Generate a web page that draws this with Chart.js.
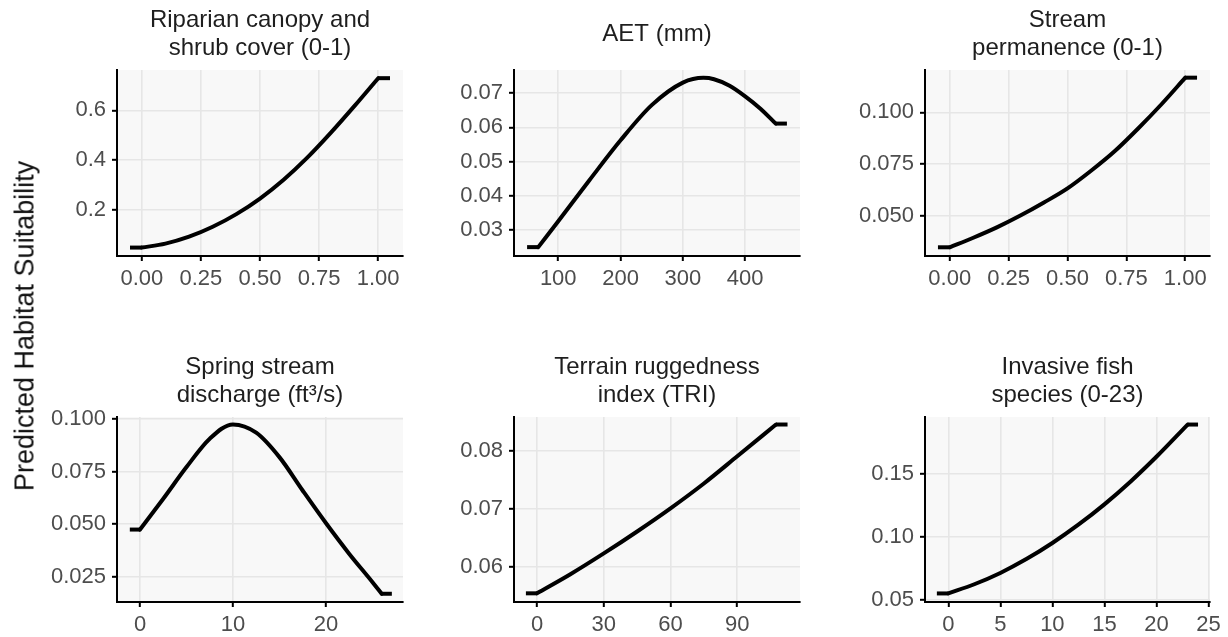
<!DOCTYPE html>
<html>
<head>
<meta charset="utf-8">
<script src="https://cdn.jsdelivr.net/npm/chart.js@4.4.1/dist/chart.umd.min.js"></script>
<style>
  html, body { margin: 0; padding: 0; background: #fff; overflow: hidden; }
  #wrap { position: relative; width: 1228px; height: 637px; }
  canvas { position: absolute; }
  #ylab {
    position: absolute; left: 25px; top: 326px;
    transform: translate(-50%, -50%) rotate(-90deg);
    white-space: nowrap; font: 27px 'Liberation Sans', Arial, sans-serif; color: #111;
  }
</style>
</head>
<body>
<div id="wrap">
  <canvas id="c1"></canvas>
  <canvas id="c2"></canvas>
  <canvas id="c3"></canvas>
  <canvas id="c4"></canvas>
  <canvas id="c5"></canvas>
  <canvas id="c6"></canvas>
  <div id="ylab">Predicted Habitat Suitability</div>
</div>
<script>
// Riparian canopy and shrub cover
const riparianX = [-0.05, 0, 0.1, 0.2, 0.3, 0.4, 0.5, 0.6, 0.7, 0.8, 0.9, 1.0, 1.05];
const riparianY = [0.046, 0.046, 0.062, 0.09, 0.13, 0.181, 0.244, 0.32, 0.409, 0.51, 0.618, 0.73, 0.73];
const riparianXTicks = ['0.00', '0.25', '0.50', '0.75', '1.00'];
const riparianYTicks = ['0.2', '0.4', '0.6'];

// AET
const aetX = [50, 68, 100, 150, 200, 250, 300, 333, 350, 375, 400, 425, 449, 467];
const aetY = [0.0249, 0.0249, 0.0325, 0.0445, 0.0562, 0.0665, 0.0731, 0.0745, 0.0741, 0.0722, 0.0691, 0.0654, 0.0611, 0.0611];
const aetXTicks = ['100', '200', '300', '400'];
const aetYTicks = ['0.03', '0.04', '0.05', '0.06', '0.07'];

// Stream permanence
const permX = [-0.05, 0, 0.1, 0.2, 0.3, 0.4, 0.5, 0.6, 0.7, 0.8, 0.9, 1.0, 1.05];
const permY = [0.0349, 0.0349, 0.0395, 0.0445, 0.0502, 0.0565, 0.0633, 0.0718, 0.0812, 0.0922, 0.104, 0.1167, 0.1167];
const permXTicks = ['0.00', '0.25', '0.50', '0.75', '1.00'];
const permYTicks = ['0.050', '0.075', '0.100'];

// Spring stream discharge
const dischargeX = [-1.1, 0, 2.5, 5, 7.5, 10, 12.5, 15, 17.5, 20, 22.5, 25, 26, 27.1];
const dischargeY = [0.0475, 0.0475, 0.0621, 0.0771, 0.0905, 0.0973, 0.0934, 0.0818, 0.066, 0.0506, 0.0361, 0.0227, 0.0171, 0.0171];
const dischargeXTicks = ['0', '10', '20'];
const dischargeYTicks = ['0.025', '0.050', '0.075', '0.100'];

// Terrain ruggedness index
const triX = [-5, 0, 15, 30, 45, 60, 75, 90, 107.4, 112.6];
const triY = [0.0554, 0.0554, 0.0587, 0.0623, 0.0661, 0.0701, 0.0744, 0.0791, 0.0846, 0.0846];
const triXTicks = ['0', '30', '60', '90'];
const triYTicks = ['0.06', '0.07', '0.08'];

// Invasive fish species
const fishX = [-1.1, 0, 2.5, 5, 7.5, 10, 12.5, 15, 17.5, 20, 23, 24];
const fishY = [0.0548, 0.0548, 0.0621, 0.0711, 0.0821, 0.0949, 0.1094, 0.1256, 0.1436, 0.1634, 0.189, 0.189];
const fishXTicks = ['0', '5', '10', '15', '20', '25'];
const fishYTicks = ['0.05', '0.10', '0.15'];

Chart.defaults.font.family = "'Liberation Sans', Arial, sans-serif";

const panelBg = {
  id: 'panelBg',
  beforeDraw(chart) {
    const a = chart.chartArea;
    const ctx = chart.ctx;
    ctx.save();
    ctx.fillStyle = '#f8f8f8';
    ctx.fillRect(a.left, a.top, a.right - a.left, a.bottom - a.top);
    ctx.restore();
  },
};

const panelTitle = {
  id: 'panelTitle',
  afterDraw(chart, args, opts) {
    const a = chart.chartArea;
    const ctx = chart.ctx;
    const lines = opts.lines || [];
    const cx = (a.left + a.right) / 2;
    const mid = a.top - 36;
    ctx.save();
    ctx.font = "24px 'Liberation Sans', Arial, sans-serif";
    ctx.fillStyle = '#1e1e1e';
    ctx.textAlign = 'center';
    ctx.textBaseline = 'middle';
    lines.forEach((t, i) => {
      const y = mid + (i - (lines.length - 1) / 2) * 28;
      ctx.fillText(t, cx, y);
    });
    ctx.restore();
  },
};

const axisOpts = (lim, labels, isX) => ({
  type: 'linear',
  min: lim[0],
  max: lim[1],
  afterBuildTicks: (scale) => {
    scale.ticks = labels.map((l) => ({value: Number(l)}));
  },
  afterFit: (scale) => {
    if (isX) scale.height = 40; else scale.width = 80;
  },
  ticks: {
    autoSkip: false,
    maxRotation: 0,
    padding: isX ? 5 : 6,
    color: '#4d4d4d',
    font: {size: 22},
    callback: (v, i) => labels[i],
  },
  grid: {
    color: '#e6e6e6',
    lineWidth: 1.6,
    tickColor: '#000',
    tickLength: 5,
    tickWidth: 2,
  },
  border: {display: true, color: '#000', width: 2},
});

const makePanel = (id, box, title, xs, ys, xLim, yLim, xTicks, yTicks) => {
  const canvas = document.getElementById(id);
  const padTop = box.top - box.canvasTop;
  canvas.width = 80 + box.w + 18;
  canvas.height = padTop + box.h + 40;
  canvas.style.left = (box.left - 80) + 'px';
  canvas.style.top = box.canvasTop + 'px';

  const pts = xs.map((x, i) => ({x, y: ys[i]}));
  const n = pts.length;
  const line = {
    borderColor: '#000',
    borderWidth: 4,
    pointRadius: 0,
    fill: false,
  };

  return new Chart(canvas.getContext('2d'), {
    type: 'line',
    data: {
      datasets: [
        {...line, data: pts.slice(0, 2), borderCapStyle: 'butt'},
        {...line, data: pts.slice(1, n - 1), cubicInterpolationMode: 'monotone', borderCapStyle: 'round'},
        {...line, data: pts.slice(n - 2), borderCapStyle: 'butt'},
      ],
    },
    options: {
      responsive: false,
      animation: false,
      devicePixelRatio: 1,
      layout: {padding: {top: padTop, right: 18, left: 0, bottom: 0}},
      plugins: {
        legend: {display: false},
        tooltip: {enabled: false},
        panelTitle: {lines: title},
      },
      scales: {
        x: {...axisOpts(xLim, xTicks, true), position: 'bottom'},
        y: {...axisOpts(yLim, yTicks, false), position: 'left'},
      },
    },
    plugins: [panelBg, panelTitle],
  });
};

const row1 = {canvasTop: 0, top: 70, h: 186};
const row2 = {canvasTop: 300, top: 417, h: 185};

makePanel('c1', {...row1, left: 117, w: 286}, ['Riparian canopy and', 'shrub cover (0-1)'],
    riparianX, riparianY, [-0.105, 1.105], [0.012, 0.763], riparianXTicks, riparianYTicks);
makePanel('c2', {...row1, left: 514, w: 286}, ['AET (mm)'],
    aetX, aetY, [29, 488], [0.0223, 0.0768], aetXTicks, aetYTicks);
makePanel('c3', {...row1, left: 925, w: 285}, ['Stream', 'permanence (0-1)'],
    permX, permY, [-0.105, 1.105], [0.0307, 0.1204], permXTicks, permYTicks);
makePanel('c4', {...row2, left: 117, w: 286}, ['Spring stream', 'discharge (ft\u00B3/s)'],
    dischargeX, dischargeY, [-2.48, 28.3], [0.0132, 0.1008], dischargeXTicks, dischargeYTicks);
makePanel('c5', {...row2, left: 514, w: 286}, ['Terrain ruggedness', 'index (TRI)'],
    triX, triY, [-10.35, 118.2], [0.0539, 0.0859], triXTicks, triYTicks);
makePanel('c6', {...row2, left: 925, w: 285}, ['Invasive fish', 'species (0-23)'],
    fishX, fishY, [-2.24, 25.15], [0.048, 0.195], fishXTicks, fishYTicks);
</script>
</body>
</html>
